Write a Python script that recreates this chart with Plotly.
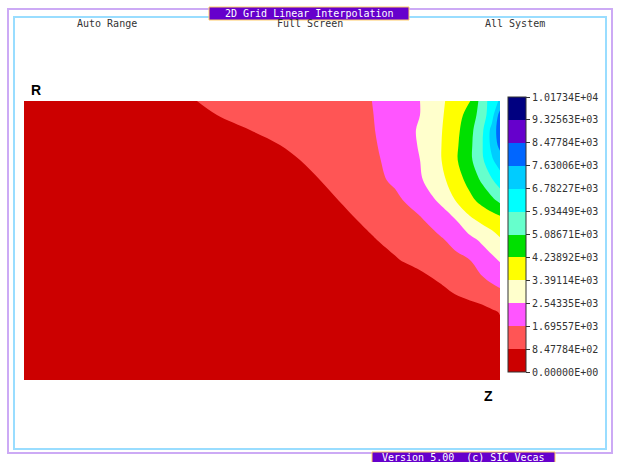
import plotly.graph_objects as go

# Grid axes: Z along the horizontal, R along the vertical (rows listed top to bottom)
z_pos = [0, 86, 173, 226, 276, 316, 348, 371, 396, 416, 431, 446, 458, 468, 476]
r_pos = [279, 265, 250, 235, 220, 200, 180, 160, 140, 120, 93, 68, 35, 0]

# Field values on the grid, one list per R row (top row first)
row_279 = [100, 426, 848, 1105, 1347, 1541, 1696, 2102, 2543, 3221, 3717, 4206, 5472, 6358, 6900]
row_265 = [100, 380, 742, 1023, 1288, 1500, 1669, 2051, 2543, 3250, 3835, 4592, 5510, 6464, 8000]
row_250 = [100, 300, 560, 848, 1174, 1435, 1644, 2039, 2641, 3293, 3956, 4826, 5765, 7065, 8150]
row_235 = [100, 250, 450, 601, 1013, 1342, 1605, 1986, 2614, 3320, 4039, 4905, 5849, 7024, 7900]
row_220 = [100, 200, 280, 355, 848, 1242, 1558, 1920, 2543, 3310, 4089, 4917, 5780, 6688, 7200]
row_200 = [100, 180, 250, 350, 606, 1090, 1478, 1821, 2443, 3133, 3790, 4557, 5217, 5869, 6400]
row_180 = [100, 170, 230, 290, 388, 872, 1260, 1538, 2046, 2684, 3391, 4027, 4522, 4925, 5300]
row_160 = [100, 160, 215, 260, 330, 642, 1030, 1308, 1611, 2063, 2487, 3232, 3577, 3784, 3950]
row_140 = [100, 150, 200, 240, 300, 450, 788, 1063, 1362, 1600, 1894, 2317, 2681, 3025, 3300]
row_120 = [100, 140, 185, 220, 270, 360, 509, 787, 1090, 1333, 1514, 1696, 2059, 2362, 2620]
row_093 = [100, 130, 170, 200, 240, 290, 340, 390, 448, 768, 1008, 1248, 1440, 1600, 1730]
row_068 = [100, 120, 155, 180, 210, 245, 280, 320, 370, 420, 460, 500, 592, 752, 880]
row_035 = [90, 110, 140, 160, 185, 210, 240, 270, 300, 330, 350, 380, 420, 480, 560]
row_000 = [80, 100, 125, 140, 160, 180, 200, 225, 250, 275, 290, 310, 340, 380, 420]

field_rows = [row_279, row_265, row_250, row_235, row_220, row_200, row_180,
              row_160, row_140, row_120, row_093, row_068, row_035, row_000]

# Contour levels and legend labels
level_values = [0.0, 847.784, 1695.57, 2543.35, 3391.14, 4238.92, 5086.71,
                5934.49, 6782.27, 7630.06, 8477.84, 9325.63, 10173.4]
level_labels = ["0.00000E+00", "8.47784E+02", "1.69557E+03", "2.54335E+03",
                "3.39114E+03", "4.23892E+03", "5.08671E+03", "5.93449E+03",
                "6.78227E+03", "7.63006E+03", "8.47784E+03", "9.32563E+03",
                "1.01734E+04"]
band_colors = ["#CC0000", "#FF5555", "#FF55FF", "#FFFFCC", "#FFFF00", "#00E000",
               "#66FFCC", "#00FFFF", "#00CCFF", "#0066FF", "#6600CC", "#000080"]

W, H = 619, 462
L, R_, T, B = 24, 119, 101, 82
PW, PH = W - L - R_, H - T - B


def px(x):
    return (x - L) / PW


def py(y):
    return (H - B - y) / PH


nband = len(band_colors)
lvl_start, lvl_end = level_values[0], level_values[-1]
lvl_size = (lvl_end - lvl_start) / nband

# Filled contours sample the colourscale at (i + 1) / (nband + 1) for band i,
# so each band colour is held flat around its own sample point.
nlev = nband + 1
edges = [0.0] + [(j + 1.5) / nlev for j in range(nband - 1)] + [1.0]
cscale = []
for i, c in enumerate(band_colors):
    cscale.append([edges[i], c])
    cscale.append([edges[i + 1], c])

fig = go.Figure(go.Contour(
    x=z_pos,
    y=r_pos[::-1],
    z=field_rows[::-1],
    zmin=lvl_start, zmax=lvl_end, zauto=False,
    contours=dict(start=lvl_start, end=lvl_end, size=lvl_size, coloring="fill"),
    line=dict(width=0, smoothing=1),
    colorscale=cscale,
    colorbar=dict(
        tickvals=level_values, ticktext=level_labels,
        thicknessmode="pixels", thickness=18,
        lenmode="pixels", len=275,
        x=px(508), xanchor="left", xpad=0,
        y=py(97), yanchor="top", ypad=0,
        outlinewidth=1, outlinecolor="#333",
        ticks="outside", ticklen=4, tickcolor="#333",
        tickfont=dict(family="DejaVu Sans Mono", size=10, color="#333"),
    ),
    hoverinfo="skip",
))

shapes = [
    # outer and inner window frames
    dict(type="rect", xref="paper", yref="paper", x0=px(8), x1=px(612), y0=py(9), y1=py(453),
         line=dict(color="#CCAAF5", width=2), layer="below"),
    dict(type="rect", xref="paper", yref="paper", x0=px(14), x1=px(606), y0=py(17), y1=py(449),
         line=dict(color="#99DDFF", width=2), layer="below"),
    # title and version boxes
    dict(type="rect", xref="paper", yref="paper", x0=px(209), x1=px(409), y0=py(7), y1=py(20),
         fillcolor="#6600CC", line=dict(color="#FFCC66", width=1)),
    dict(type="rect", xref="paper", yref="paper", x0=px(372), x1=px(555), y0=py(452), y1=py(464),
         fillcolor="#6600CC", line=dict(color="#FFCC66", width=1)),
]

mono = dict(family="DejaVu Sans Mono", size=10, color="#333")
annotations = [
    dict(text="2D Grid Linear Interpolation", x=px(309), y=py(13.5),
         font=dict(family="DejaVu Sans Mono", size=10, color="white")),
    dict(text="Version 5.00  (c) SIC Vecas", x=px(463), y=py(457.5),
         font=dict(family="DejaVu Sans Mono", size=10, color="white")),
    dict(text="Auto Range", x=px(107), y=py(24), font=mono),
    dict(text="Full Screen", x=px(310), y=py(24), font=mono),
    dict(text="All System", x=px(515), y=py(24), font=mono),
    dict(text="<b>R</b>", x=px(36), y=py(90), font=dict(family="Liberation Sans", size=14, color="black")),
    dict(text="<b>Z</b>", x=px(488), y=py(396), font=dict(family="Liberation Sans", size=14, color="black")),
]
for a in annotations:
    a.update(xref="paper", yref="paper", showarrow=False, xanchor="center", yanchor="middle")

fig.update_layout(
    width=W, height=H,
    margin=dict(l=L, r=R_, t=T, b=B),
    paper_bgcolor="white", plot_bgcolor="white",
    xaxis=dict(visible=False, range=[z_pos[0], z_pos[-1]]),
    yaxis=dict(visible=False, range=[r_pos[-1], r_pos[0]]),
    shapes=shapes, annotations=annotations,
    showlegend=False,
)

fig.write_html("out.html")
